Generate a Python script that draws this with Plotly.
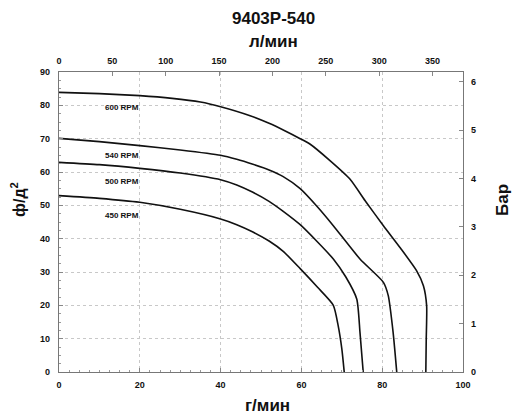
import plotly.graph_objects as go

# ---- data ----
gpm_600 = [0, 10, 20, 28, 35, 40, 47.3, 52, 56, 59.7, 62.1, 67, 72, 76, 80.3, 84.5, 88.5, 90.2, 91.0, 90.9, 90.8]
psi_600 = [83.9, 83.5, 82.9, 82.1, 81, 79.6, 76.9, 74.6, 72.3, 70.0, 68.4, 63.5, 57.9, 51, 43.9, 37.2, 30.4, 25.9, 19.9, 10, 0]

gpm_540 = [0, 10, 20, 30, 40, 44, 48, 52, 55.5, 59.7, 64, 67.9, 74.5, 80.3, 81.5, 82.7, 83.6]
psi_540 = [70.1, 69.1, 67.9, 66.6, 65.0, 63.8, 62.3, 60.6, 58.6, 55.0, 49.5, 43.9, 33.9, 26.9, 22.9, 11.9, 0]

gpm_500 = [0, 10, 20, 30, 40, 44, 48, 52, 55.5, 59.7, 64, 67.9, 71, 73.7, 74.5, 75.3]
psi_500 = [62.9, 62.2, 61.1, 59.7, 57.7, 56.1, 53.9, 51.2, 48.2, 44.2, 39, 33.9, 28.5, 21.9, 11.9, 0]

gpm_450 = [0, 10, 20, 30, 40, 44, 48, 52, 55.5, 59.7, 64, 67.9, 69.1, 70.0, 70.6]
psi_450 = [52.9, 52.1, 50.9, 48.8, 45.9, 44.2, 42.0, 39.3, 36.2, 31.0, 25.4, 20.0, 13.9, 7, 0]

rpm_labels = ["600 RPM", "540 RPM", "500 RPM", "450 RPM"]
label_x = [15.6, 15.6, 15.6, 15.6]
label_y = [79.5, 65.0, 57.2, 47.0]

x_ticks = [0, 20, 40, 60, 80, 100]
y_ticks = [0, 10, 20, 30, 40, 50, 60, 70, 80, 90]
lpm_ticks = [0, 50, 100, 150, 200, 250, 300, 350]
bar_ticks = [0, 1, 2, 3, 4, 5, 6]

GPM_TO_LPM = 3.78541
PSI_TO_BAR = 0.0689476

FONT = "Liberation Sans, Arial, sans-serif"
tickfont = dict(family=FONT, size=9, color="#111", weight="bold")

fig = go.Figure()
for gx, py in [(gpm_600, psi_600), (gpm_540, psi_540), (gpm_500, psi_500), (gpm_450, psi_450)]:
    fig.add_trace(go.Scatter(x=gx, y=py, mode="lines",
                             line=dict(color="#111", width=1.6, shape="spline", smoothing=0.6),
                             hoverinfo="skip", showlegend=False))
# dummy trace to activate top/right axes
fig.add_trace(go.Scatter(x=[None], y=[None], xaxis="x2", yaxis="y2", showlegend=False))

for t, lx, ly in zip(rpm_labels, label_x, label_y):
    fig.add_annotation(x=lx, y=ly, text=t, showarrow=False,
                       font=dict(family=FONT, size=8, color="#111", weight="bold"))

axis_common = dict(showline=True, linecolor="#777", linewidth=1.2, ticks="inside",
                   ticklen=4, tickcolor="#888", tickfont=tickfont, zeroline=False)

fig.update_layout(
    width=513, height=417,
    margin=dict(l=59, r=50, t=72, b=45),
    plot_bgcolor="white", paper_bgcolor="white",
    xaxis=dict(range=[0, 100], tickvals=x_ticks, showgrid=True, gridcolor="#c8c8c8",
               griddash="dot", gridwidth=1, ticklabelstandoff=4,
               minor=dict(dtick=2.5, ticks="inside", ticklen=2, tickcolor="#999", showgrid=False),
               **axis_common),
    yaxis=dict(range=[0, 90], tickvals=y_ticks, showgrid=True, gridcolor="#c8c8c8",
               griddash="dot", gridwidth=1, ticklabelstandoff=6,
               minor=dict(dtick=2.5, ticks="inside", ticklen=2, tickcolor="#999", showgrid=False),
               **axis_common),
    xaxis2=dict(range=[0, 100 * GPM_TO_LPM], tickvals=lpm_ticks, overlaying="x", side="top",
                showgrid=False, ticklabelstandoff=3, **axis_common),
    yaxis2=dict(range=[0, 90 * PSI_TO_BAR], tickvals=bar_ticks, overlaying="y", side="right",
                showgrid=False, ticklabelstandoff=5, anchor="x", **axis_common),
)


def px(xp, yp):
    """pixel position in the 513x417 page -> paper coordinates"""
    return (xp - 59) / 404.0, (372 - yp) / 300.0


annots = [
    ("<b>9403P-540</b>", 273, 19, 0, 17),
    ("<b>л/мин</b>", 273, 41, 0, 17),
    ("<b>г/мин</b>", 267, 405, 0, 17),
    ("<b>ф/д<sup>2</sup></b>", 18, 200, -90, 16),
    ("<b>Бар</b>", 502, 200, -90, 17),
]
for text, xp, yp, ang, sz in annots:
    ax, ay = px(xp, yp)
    fig.add_annotation(x=ax, y=ay, xref="paper", yref="paper", text=text, showarrow=False,
                       xanchor="center", yanchor="middle",
                       textangle=ang, font=dict(family=FONT, size=sz, color="#111"))

fig.write_html("out.html")
